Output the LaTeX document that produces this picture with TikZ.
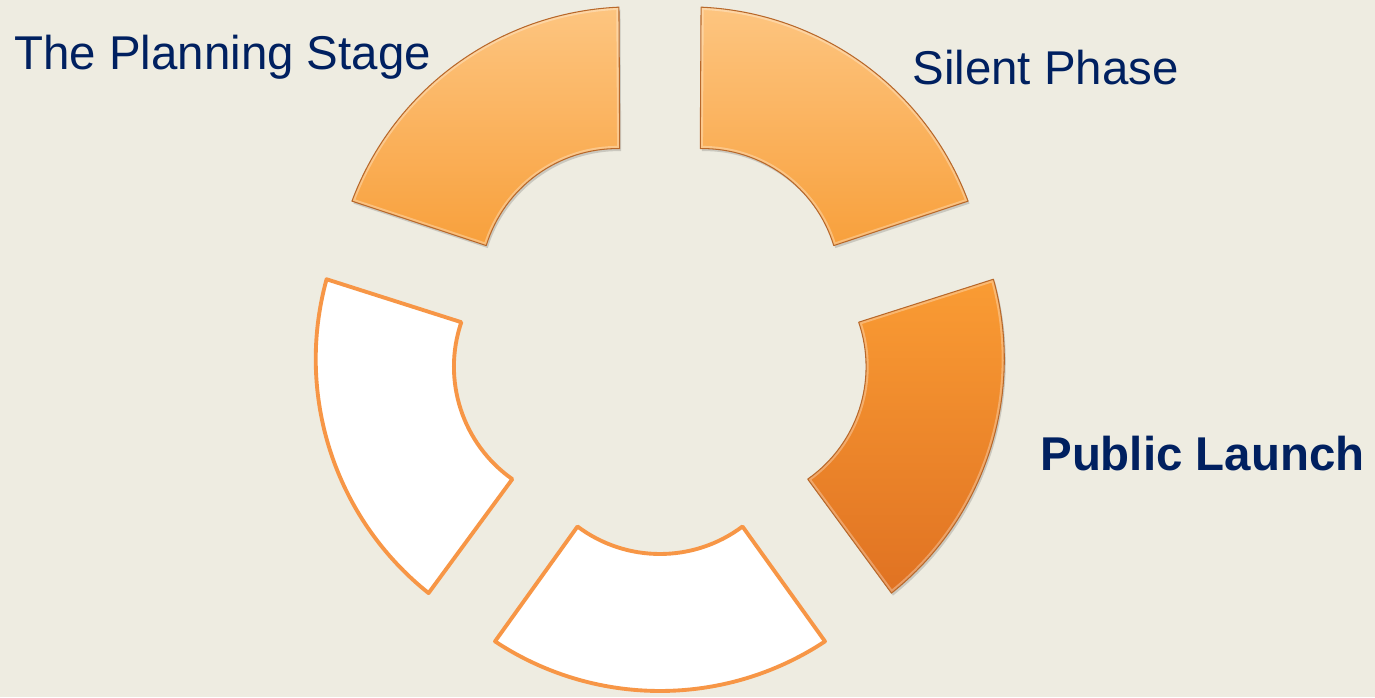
\documentclass[tikz,border=0pt]{standalone}
\usepackage{fontspec}
\setmainfont{Liberation Sans}
\definecolor{bgc}{HTML}{EEECE1}
\definecolor{navy}{HTML}{002060}
\definecolor{acc}{HTML}{F79646}
\definecolor{lta}{HTML}{FDC580}
\definecolor{ltb}{HTML}{F8A03C}
\definecolor{dka}{HTML}{FA9C34}
\definecolor{dkb}{HTML}{E07222}
\definecolor{edgec}{HTML}{B8682A}
% one ring segment, rotated by #1 degrees from the bottom position
\newcommand\segpath[1]{({660+47.4*cos(270+#1)+299.2*cos(236.53+#1)},{352.6+47.4*sin(270+#1)+299.2*sin(236.53+#1)})
  arc[start angle={236.53+#1}, end angle={303.47+#1}, radius=299.2]
  -- ({660+72.1*cos(270+#1)+137.5*cos(306.87+#1)},{352.6+72.1*sin(270+#1)+137.5*sin(306.87+#1)})
  arc[start angle={306.87+#1}, end angle={233.13+#1}, radius=137.5] -- cycle}
\begin{document}
\begin{tikzpicture}[x=0.02cm,y=0.02cm,
  lbl/.style={text=navy, inner sep=0pt, anchor=base west, font=\fontsize{27pt}{32pt}\selectfont},
  whiteseg/.style={fill=white, draw=acc, line width=2.2pt, line join=round},
  lightseg/.style={top color=lta, bottom color=ltb},
  darkseg/.style={top color=dka, bottom color=dkb},
  shadowseg/.style={fill=black, opacity=.15},
  bevel/.style={draw=white, opacity=.3, line width=3pt},
  rim/.style={draw=edgec, line width=.6pt, line join=round}]
\fill[bgc] (0,0) rectangle (1375,697);
\useasboundingbox (0,0) rectangle (1375,697);
% outlined (white) segments
\path[whiteseg] \segpath{0};
\path[whiteseg] \segpath{288};
% filled (orange) segments
\foreach \r/\s in {72/darkseg,144/lightseg,216/lightseg}{
  \begin{scope}[shift={(1.5,-2.5)}]
    \path[shadowseg] \segpath{\r};
  \end{scope}
  \path[\s] \segpath{\r};
  \begin{scope}
    \clip \segpath{\r};
    \path[bevel] \segpath{\r};
  \end{scope}
  \path[rim] \segpath{\r};
}
% labels
\node[lbl] (plan) at (14,627.7) {The Planning Stage};
\node[lbl] (silent) at (912,612) {Silent Phase};
\node[lbl, font=\fontsize{27pt}{32pt}\selectfont\bfseries] (launch) at (1040,227) {Public Launch};
\end{tikzpicture}
\end{document}
